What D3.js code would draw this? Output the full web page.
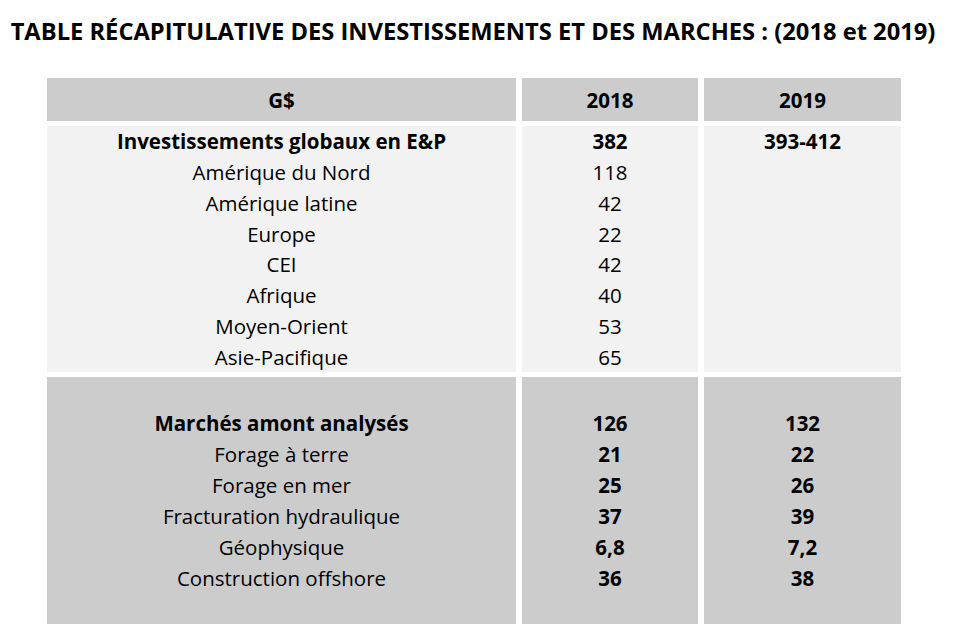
<!DOCTYPE html>
<html><head><meta charset="utf-8">
<script src="https://cdn.jsdelivr.net/npm/d3@7"></script>
<style>html,body{margin:0;padding:0;background:#fff;}svg{display:block;}</style>
</head><body>
<svg id="chart" width="960" height="642"></svg>
<script>
const title = "TABLE RÉCAPITULATIVE DES INVESTISSEMENTS ET DES MARCHES : (2018 et 2019)";
const headers = ["G$", "2018", "2019"];
// Section 1
const labels1 = ["Investissements globaux en E&P","Amérique du Nord","Amérique latine","Europe","CEI","Afrique","Moyen-Orient","Asie-Pacifique"];
const values2018a = ["382","118","42","22","42","40","53","65"];
const values2019a = ["393-412","","","","","","",""];
const bold1 = [true,false,false,false,false,false,false,false];
// Section 2
const labels2 = ["","Marchés amont analysés","Forage à terre","Forage en mer","Fracturation hydraulique","Géophysique","Construction offshore",""];
const values2018b = ["","126","21","25","37","6,8","36",""];
const values2019b = ["","132","22","26","39","7,2","38",""];
const bold2 = [false,true,false,false,false,false,false,false];

const svg = d3.select("#chart");
const FONT = "'Open Sans', 'Noto Sans', sans-serif";
const FS = "20.5px";

// column geometry
const colX = d3.scaleOrdinal().domain([0,1,2]).range([47,522,704]);
const colW = d3.scaleOrdinal().domain([0,1,2]).range([469,176,197]);

// title
const t = svg.append("text").attr("x",473).attr("y",31)
  .attr("text-anchor","middle").attr("dominant-baseline","central")
  .style("font-family",FONT).style("font-weight","bold").style("font-size","20px")
  .attr("fill","#000").text(title);
const tw = t.node().getComputedTextLength();
t.style("font-size",(20*925/tw)+"px");

// header row
const hdr = svg.append("g");
[0,1,2].forEach(c=>{
  hdr.append("rect").attr("x",colX(c)).attr("y",78).attr("width",colW(c)).attr("height",43).attr("fill","#cccccc");
  hdr.append("text").attr("x",colX(c)+colW(c)/2).attr("y",100)
    .attr("text-anchor","middle").attr("dominant-baseline","central")
    .style("font-family",FONT).style("font-weight","bold").style("font-size",FS)
    .attr("fill","#000").text(headers[c]);
});

function section(top, bottom, fill, labels, v18, v19, boldRows, valBold){
  const y = d3.scaleLinear().domain([0,labels.length]).range([top,bottom]);
  const g = svg.append("g");
  [0,1,2].forEach(c=>{
    g.append("rect").attr("x",colX(c)).attr("y",top).attr("width",colW(c)).attr("height",bottom-top).attr("fill",fill);
  });
  const cols = [labels, v18, v19];
  cols.forEach((arr,c)=>{
    g.selectAll(null).data(arr).join("text")
      .attr("x",colX(c)+colW(c)/2)
      .attr("y",(d,i)=>y(i+0.5))
      .attr("text-anchor","middle").attr("dominant-baseline","central")
      .style("font-family",FONT).style("font-size",FS)
      .style("font-weight",(d,i)=> (boldRows[i] || (c>0 && valBold)) ? "bold" : "normal")
      .attr("fill","#000").text(d=>d);
  });
}
section(126, 372, "#f2f2f2", labels1, values2018a, values2019a, bold1, false);
section(377, 624, "#cccccc", labels2, values2018b, values2019b, bold2, true);
</script>
</body></html>
